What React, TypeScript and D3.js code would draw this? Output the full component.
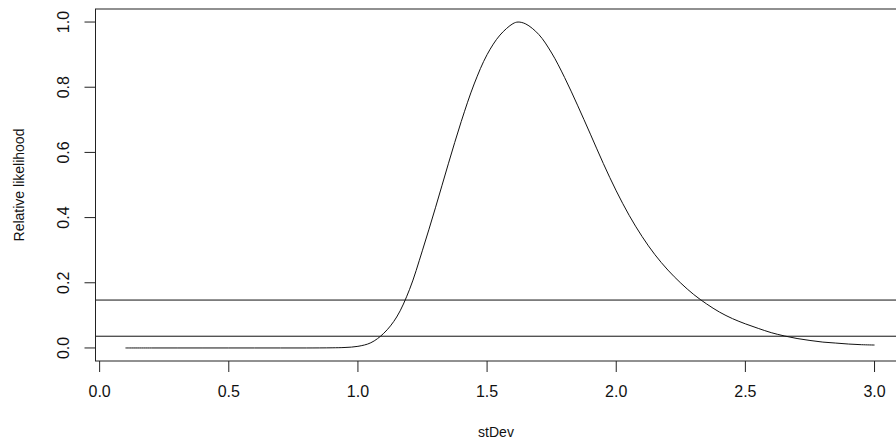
import React from "react";
import * as d3 from "d3";

const stDev: number[] = [
  0.1, 0.2, 0.3, 0.4, 0.5, 0.6, 0.7, 0.8, 0.9, 0.95, 1.0, 1.05, 1.1, 1.15, 1.2, 1.25,
  1.3, 1.35, 1.4, 1.45, 1.5, 1.55, 1.6, 1.62, 1.65, 1.7, 1.75, 1.8, 1.85, 1.9, 1.95,
  2.0, 2.05, 2.1, 2.15, 2.2, 2.25, 2.3, 2.35, 2.4, 2.45, 2.5, 2.55, 2.6, 2.65, 2.7,
  2.75, 2.8, 2.85, 2.9, 2.95, 3.0,
];
const likelihood: number[] = [
  0, 0, 0, 0, 0, 0, 0, 0, 0.0005, 0.0015, 0.005, 0.016, 0.045, 0.095, 0.18, 0.3,
  0.43, 0.565, 0.695, 0.81, 0.9, 0.96, 0.995, 1.0, 0.994, 0.962, 0.905, 0.83, 0.745,
  0.656, 0.566, 0.482, 0.407, 0.342, 0.286, 0.239, 0.199, 0.164, 0.135, 0.11, 0.09,
  0.074, 0.06, 0.047, 0.037, 0.029, 0.023, 0.018, 0.015, 0.012, 0.01, 0.009,
];
const cutoffs: number[] = [0.147, 0.036];
const xTicks: number[] = [0, 0.5, 1, 1.5, 2, 2.5, 3];
const yTicks: number[] = [0, 0.2, 0.4, 0.6, 0.8, 1.0];

const W = 896;
const H = 444;

export default function App() {
  const x = d3.scaleLinear().domain([-0.016, 3.116]).range([95.5, 904.5]);
  const y = d3.scaleLinear().domain([-0.04, 1.04]).range([361, 9]);
  const left = x.range()[0];
  const right = x.range()[1];
  const top = y.range()[1];
  const bottom = y.range()[0];
  const pts: [number, number][] = stDev.map((s, i) => [s, likelihood[i]]);
  const line = d3
    .line<[number, number]>()
    .x((d) => x(d[0]))
    .y((d) => y(d[1]))
    .curve(d3.curveCatmullRom.alpha(0.5));
  const font = "'Liberation Sans', Arial, Helvetica, sans-serif";
  return (
    <svg
      width={W}
      height={H}
      style={{ position: "absolute", left: 0, top: 0, background: "#fff" }}
      fontFamily={font}
    >
      <rect x={0} y={0} width={W} height={H} fill="#fff" />
      <path d={line(pts) || ""} fill="none" stroke="#111" strokeWidth={1} />
      {cutoffs.map((c, i) => (
        <line key={i} x1={left} x2={right} y1={y(c)} y2={y(c)} stroke="#111" strokeWidth={1} />
      ))}
      <rect
        x={left}
        y={top}
        width={right - left}
        height={bottom - top}
        fill="none"
        stroke="#222"
        strokeWidth={1}
      />
      {xTicks.map((t) => (
        <g key={"x" + t}>
          <line x1={x(t)} x2={x(t)} y1={bottom} y2={bottom + 11} stroke="#222" />
          <text x={x(t)} y={397} textAnchor="middle" fontSize={16} fill="#111">
            {t.toFixed(1)}
          </text>
        </g>
      ))}
      {yTicks.map((t) => (
        <g key={"y" + t}>
          <line x1={left} x2={left - 11} y1={y(t)} y2={y(t)} stroke="#222" />
          <text
            transform={`translate(69,${y(t)}) rotate(-90)`}
            textAnchor="middle"
            fontSize={16}
            fill="#111"
          >
            {t.toFixed(1)}
          </text>
        </g>
      ))}
      <text x={(left + right) / 2 - 4} y={437} textAnchor="middle" fontSize={14} fill="#111">
        stDev
      </text>
      <text
        transform={`translate(24,${(top + bottom) / 2}) rotate(-90)`}
        textAnchor="middle"
        fontSize={14}
        fill="#111"
      >
        Relative likelihood
      </text>
    </svg>
  );
}
